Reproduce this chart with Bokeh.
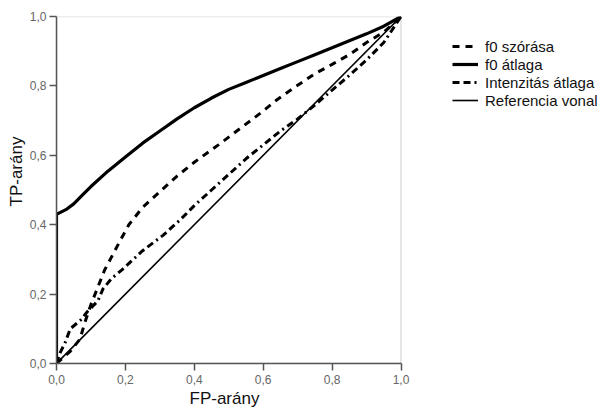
from bokeh.plotting import figure
from bokeh.models import Range1d, Legend, LegendItem, Title, CustomJSTickFormatter, FixedTicker, BoxAnnotation
from bokeh.embed import file_html
from bokeh.resources import INLINE

# ROC curve data
fp_f0_sd = [0, 0.02, 0.04, 0.068, 0.083, 0.1, 0.12, 0.14, 0.18, 0.21, 0.25, 0.3, 0.35, 0.4, 0.47, 0.53, 0.59, 0.64, 0.69, 0.75, 0.8, 0.85, 0.9, 0.95, 1.0]
tp_f0_sd = [0, 0.018, 0.035, 0.07, 0.12, 0.17, 0.22, 0.27, 0.345, 0.4, 0.45, 0.495, 0.54, 0.58, 0.63, 0.675, 0.72, 0.76, 0.795, 0.835, 0.862, 0.89, 0.925, 0.955, 1.0]

fp_f0_mean = [0, 0, 0.01, 0.03, 0.05, 0.08, 0.1, 0.15, 0.2, 0.25, 0.3, 0.35, 0.4, 0.45, 0.5, 0.55, 0.6, 0.65, 0.7, 0.75, 0.8, 0.85, 0.9, 0.95, 1.0]
tp_f0_mean = [0, 0.43, 0.435, 0.445, 0.46, 0.49, 0.51, 0.555, 0.595, 0.635, 0.67, 0.705, 0.737, 0.765, 0.79, 0.81, 0.83, 0.85, 0.87, 0.89, 0.91, 0.93, 0.95, 0.972, 1.0]

fp_int = [0, 0.01, 0.025, 0.04, 0.07, 0.09, 0.12, 0.135, 0.16, 0.19, 0.25, 0.31, 0.36, 0.4, 0.45, 0.5, 0.55, 0.6, 0.65, 0.7, 0.75, 0.8, 0.85, 0.9, 0.95, 1.0]
tp_int = [0, 0.03, 0.06, 0.1, 0.125, 0.15, 0.18, 0.215, 0.245, 0.27, 0.325, 0.37, 0.415, 0.455, 0.5, 0.545, 0.59, 0.63, 0.67, 0.705, 0.745, 0.788, 0.83, 0.875, 0.925, 1.0]

fp_ref = [0, 1]
tp_ref = [0, 1]

series_names = ["f0 szórása", "f0 átlaga", "Intenzitás átlaga", "Referencia vonal"]
tick_values = [0, 0.2, 0.4, 0.6, 0.8, 1.0]
x_title = "FP-arány"
y_title = "TP-arány"

FONT = "Liberation Sans"

# the frame is widened to host the legend; the data box spans 0..1 on both axes
FW, FH = 546, 347
PLOT_W = 344.5
x_end = FW / PLOT_W

p = figure(frame_width=FW, frame_height=FH, output_backend="svg", toolbar_location=None,
           x_range=Range1d(0, x_end), y_range=Range1d(0, 1),
           min_border_left=56, min_border_right=0, min_border_top=16, min_border_bottom=40)
p.grid.visible = False
p.background_fill_color = "white"
p.border_fill_color = "white"
p.outline_line_color = None

p.add_layout(BoxAnnotation(left=0, right=1, bottom=0, top=1, fill_alpha=0,
                           line_color="#8c8c8c", line_width=1.5, level="underlay"))

fmt = CustomJSTickFormatter(code="return tick.toFixed(1).replace('.', ',');")
for ax in (p.xaxis[0], p.yaxis[0]):
    ax.ticker = FixedTicker(ticks=tick_values)
    ax.formatter = fmt
    ax.bounds = (0, 1)
    ax.minor_tick_line_color = None
    ax.major_tick_out = 7
    ax.major_tick_in = 0
    ax.axis_line_color = "#555555"
    ax.axis_line_width = 1.5
    ax.major_tick_line_color = "#555555"
    ax.major_tick_line_width = 1.5
    ax.major_label_text_font = FONT
    ax.major_label_text_font_size = "12px"
    ax.major_label_text_color = "#666666"
p.xaxis[0].major_label_standoff = 4
p.yaxis[0].major_label_standoff = 3

r_sd = p.line(fp_f0_sd, tp_f0_sd, line_color="black", line_width=3, line_dash="7 6")
r_mean = p.line(fp_f0_mean, tp_f0_mean, line_color="black", line_width=3.2)
r_int = p.line(fp_int, tp_int, line_color="black", line_width=3, line_dash="7 4 7 4 2 4")
r_ref = p.line(fp_ref, tp_ref, line_color="black", line_width=1.6)

legend = Legend(items=[LegendItem(label=series_names[0], renderers=[r_sd]),
                       LegendItem(label=series_names[1], renderers=[r_mean]),
                       LegendItem(label=series_names[2], renderers=[r_int]),
                       LegendItem(label=series_names[3], renderers=[r_ref])],
                location=(396, 254), border_line_color=None, background_fill_alpha=0,
                padding=0, margin=0, spacing=0, glyph_width=26, glyph_height=18,
                label_height=18, label_standoff=7,
                label_text_font=FONT, label_text_font_size="15px", label_text_color="#111111")
p.add_layout(legend)

p.add_layout(Title(text=x_title, align="left", offset=133, standoff=0,
                   text_font=FONT, text_font_size="17px", text_font_style="normal",
                   text_color="#111111"), "below")
p.add_layout(Title(text=y_title, align="left", offset=157, standoff=1,
                   text_font=FONT, text_font_size="17px", text_font_style="normal",
                   text_color="#111111"), "left")

open("out.html", "w").write(file_html(p, INLINE))
